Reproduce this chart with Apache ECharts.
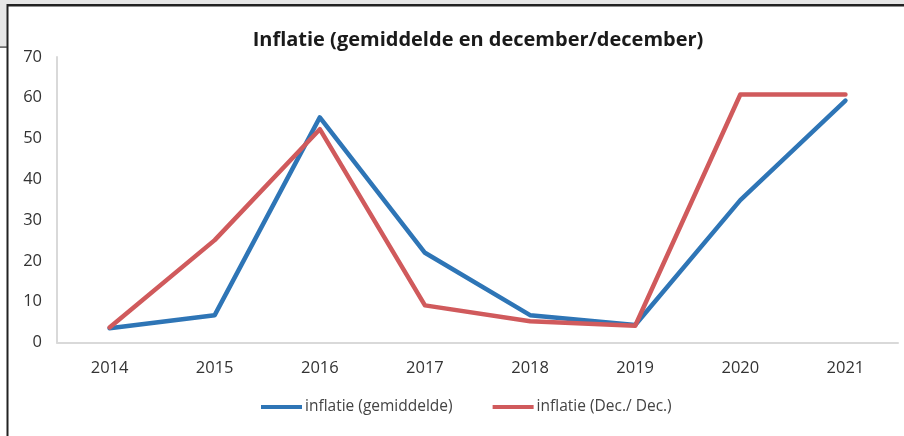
<!DOCTYPE html>
<html><head><meta charset="utf-8">
<script src="https://cdn.jsdelivr.net/npm/echarts@6/dist/echarts.min.js"></script>
<style>html,body{margin:0;padding:0;background:#fff}#c{width:904px;height:436px}</style>
</head><body><div id="c"></div>
<script>
const titleText = 'Inflatie (gemiddelde en december/december)';
const years = ['2014','2015','2016','2017','2018','2019','2020','2021'];
const seriesNames = ['inflatie (gemiddelde)', 'inflatie (Dec./ Dec.)'];
const gemiddelde = [3.5, 6.7, 55.2, 22.0, 6.7, 4.3, 34.9, 59.3];
const decDec = [3.7, 25.1, 52.3, 9.1, 5.2, 4.1, 60.8, 60.8];
const yTicks = [0, 10, 20, 30, 40, 50, 60, 70];

const chart = echarts.init(document.getElementById('c'), null, {renderer:'canvas'});
const font = '"Open Sans", "Noto Sans", sans-serif';
chart.setOption({
  animation:false,
  backgroundColor:'#ffffff',
  title:{text:titleText,left:473,top:25,textAlign:'center',
    textStyle:{fontFamily:font,fontSize:20,fontWeight:'bold',color:'#1a1a1a'}},
  grid:{left:57,right:6,top:57,bottom:93.5,containLabel:false},
  legend:{bottom:16,left:256,itemWidth:41,itemHeight:4,itemGap:40,icon:'rect',
    data:seriesNames,textStyle:{fontFamily:font,fontSize:15.5,color:'#444',padding:[0,0,0,-2]}},
  xAxis:{type:'category',data:years,boundaryGap:true,
    axisLine:{lineStyle:{color:'#d9d9d9',width:2}},axisTick:{show:false},
    axisLabel:{margin:17,fontFamily:font,fontSize:16.5,color:'#333'}},
  yAxis:{type:'value',min:yTicks[0],max:yTicks[yTicks.length-1],interval:10,
    axisLine:{show:true,lineStyle:{color:'#d9d9d9',width:2}},axisTick:{show:false},splitLine:{show:false},
    axisLabel:{margin:15,fontFamily:font,fontSize:16.5,color:'#333'}},
  series:[
    {name:seriesNames[0],type:'line',data:gemiddelde,showSymbol:false,symbol:'none',
      itemStyle:{color:'#2e75b6'},lineStyle:{color:'#2e75b6',width:4.5,cap:'round',join:'round'}},
    {name:seriesNames[1],type:'line',data:decDec,showSymbol:false,symbol:'none',
      itemStyle:{color:'#d05a5c'},lineStyle:{color:'#d05a5c',width:4.5,cap:'round',join:'round'}}
  ],
  graphic:[
    {type:'rect',shape:{x:0,y:0,width:904,height:5},style:{fill:'#e6e6e6'},z:100},
    {type:'rect',shape:{x:0,y:0,width:7,height:47},style:{fill:'#e6e6e6'},z:100},
    {type:'rect',shape:{x:7,y:4,width:897,height:2.5},style:{fill:'#222'},z:101},
    {type:'rect',shape:{x:6.5,y:4,width:2,height:432},style:{fill:'#222'},z:101},
    {type:'rect',shape:{x:0,y:46.5,width:7,height:1.2},style:{fill:'#333'},z:101}
  ]
});
</script></body></html>
